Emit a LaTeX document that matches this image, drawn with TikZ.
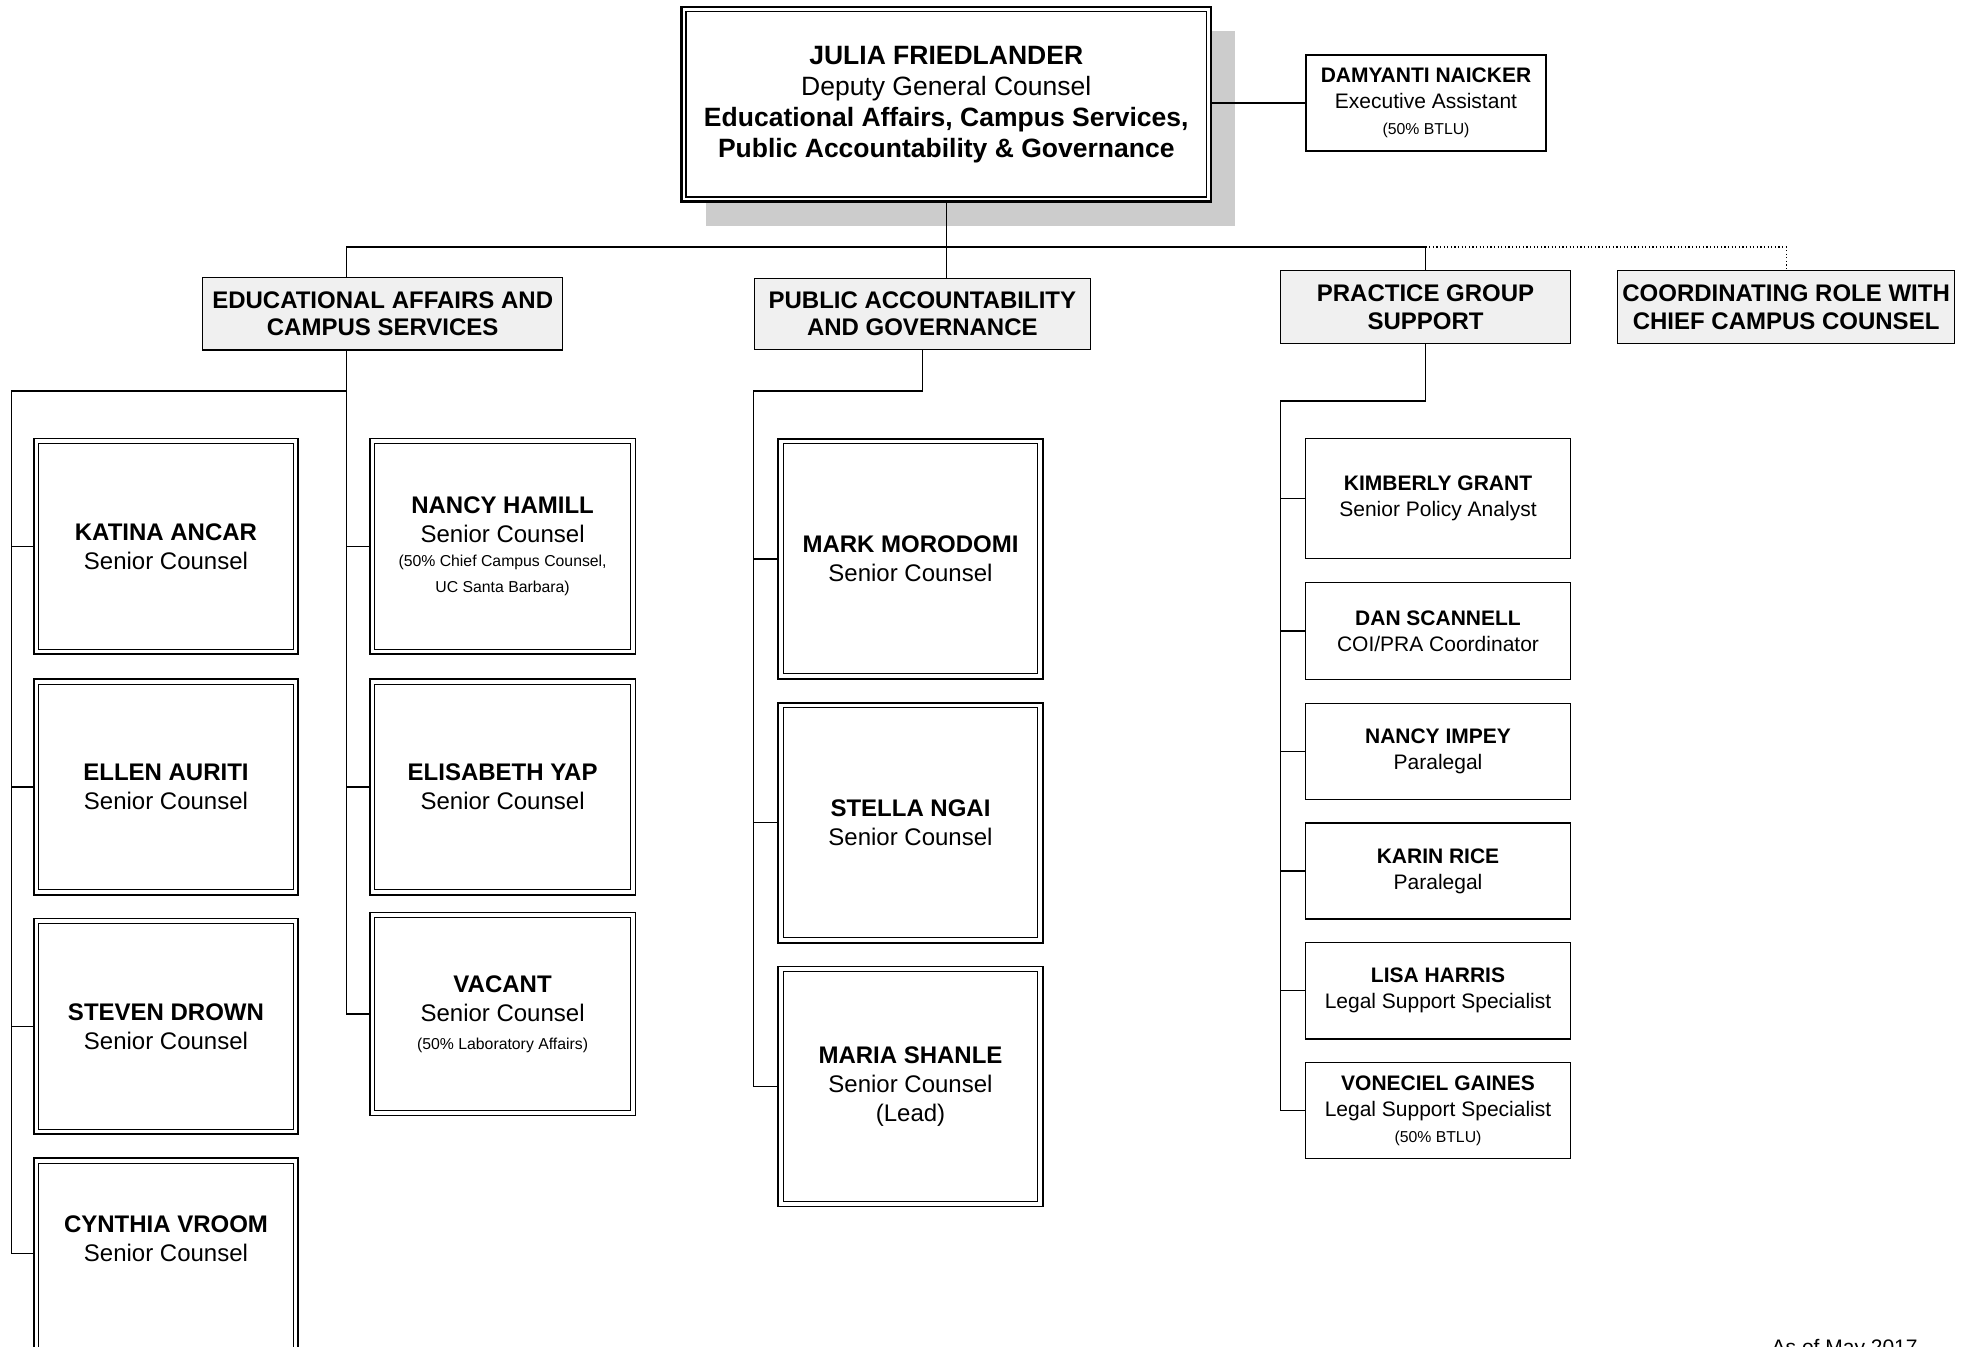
\documentclass[tikz,border=0pt]{standalone}
\usepackage{fontspec}
\setmainfont{Liberation Sans}
\usetikzlibrary{shadows}
\definecolor{hdrfill}{HTML}{F0F0F0}
\definecolor{shadecol}{HTML}{CCCCCC}
\newcommand{\smalltxt}{\fontsize{7.9}{9}\selectfont}
\tikzset{
  sz/.style 2 args={minimum width=#1*0.5pt, minimum height=#2*0.5pt},
  conn/.style={line width=0.6pt},
  dotconn/.style={line width=0.6pt, dash pattern=on 0.6pt off 1.2pt},
  topbox/.style={draw, fill=white, line width=1.25pt, inner sep=0pt, align=center,
    font=\fontsize{13.25}{15.5}\selectfont,
    drop shadow={shadow xshift=12pt, shadow yshift=-12pt, fill=shadecol, opacity=1},
    path picture={\draw[line width=0.7pt]
      ([shift={(2.2pt,-2.2pt)}]path picture bounding box.north west) rectangle
      ([shift={(-2.2pt,2.2pt)}]path picture bounding box.south east);}},
  hdrbox/.style={draw, fill=hdrfill, line width=0.65pt, inner sep=0pt, align=center,
    font=\fontsize{12}{13.75}\selectfont\bfseries},
  dblbox/.style={draw, line width=0.85pt, inner sep=0pt, align=center,
    font=\fontsize{12}{14.5}\selectfont,
    path picture={\draw[line width=0.5pt]
      ([shift={(2.5pt,-2.5pt)}]path picture bounding box.north west) rectangle
      ([shift={(-2.5pt,2.5pt)}]path picture bounding box.south east);}},
  sbox/.style={draw, line width=0.55pt, inner sep=0pt, align=center,
    font=\fontsize{10.5}{13}\selectfont},
}
\begin{document}
\begin{tikzpicture}[x=0.5pt,y=-0.5pt]
\useasboundingbox (0,0) rectangle (1965,1346);
\fill[white] (0,0) rectangle (1965,1346);
\clip (0,0) rectangle (1965,1346);

% top
\node[topbox, sz={529.5}{194.5}] (jf) at (946.25,104.25)
  {\textbf{JULIA FRIEDLANDER}\\Deputy General Counsel\\\textbf{Educational Affairs, Campus Services,}\\\textbf{Public Accountability \& Governance}};
\node[sbox, sz={240}{96}] (dn) at (1426,103)
  {\textbf{DAMYANTI NAICKER}\\Executive Assistant\\{\smalltxt(50\% BTLU)}};

% group headers
\node[hdrbox, sz={360}{72.3}] (ea) at (382.7,313.85) {EDUCATIONAL AFFAIRS AND\\CAMPUS SERVICES};
\node[hdrbox, sz={335.9}{71.4}] (pa) at (922.35,313.9) {PUBLIC ACCOUNTABILITY\\AND GOVERNANCE};
\node[hdrbox, sz={289.5}{72.7}] (pg) at (1425.55,307) {PRACTICE GROUP\\SUPPORT};
\node[hdrbox, sz={337.2}{72.7}] (cc) at (1786.1,307) {COORDINATING ROLE WITH\\CHIEF CAMPUS COUNSEL};

% educational affairs column 1
\node[dblbox, sz={264.5}{215.6}] (ka) at (166,546.4) {\textbf{KATINA ANCAR}\\Senior Counsel};
\node[dblbox, sz={264.5}{215.6}] (el) at (166,787) {\textbf{ELLEN AURITI}\\Senior Counsel};
\node[dblbox, sz={264.5}{215.6}] (sd) at (166,1026.4) {\textbf{STEVEN DROWN}\\Senior Counsel};
\node[dblbox, sz={264.5}{216}] (cv) at (166,1266) {\textbf{CYNTHIA VROOM}\\Senior Counsel\\[12.5pt]\mbox{}};

% educational affairs column 2
\node[dblbox, sz={265.7}{215.6}] (nh) at (502.6,546.4)
  {\textbf{NANCY HAMILL}\\Senior Counsel\\[-2.5pt]{\smalltxt(50\% Chief Campus Counsel,}\\[-1.5pt]{\smalltxt UC Santa Barbara)}};
\node[dblbox, sz={265.7}{215.6}] (ey) at (502.6,787) {\textbf{ELISABETH YAP}\\Senior Counsel};
\node[dblbox, sz={265.7}{203}] (va) at (502.6,1013.9)
  {\textbf{VACANT}\\Senior Counsel\\[-0.5pt]{\smalltxt(50\% Laboratory Affairs)}};

% public accountability column
\node[dblbox, sz={264.5}{240}] (mm) at (910.5,558.9) {\textbf{MARK MORODOMI}\\Senior Counsel};
\node[dblbox, sz={264.5}{240}] (sn) at (910.5,822.7) {\textbf{STELLA NGAI}\\Senior Counsel};
\node[dblbox, sz={264.5}{240}] (ms) at (910.5,1086.5) {\textbf{MARIA SHANLE}\\Senior Counsel\\(Lead)};

% practice group support column
\node[sbox, sz={264.5}{120.3}] (kg) at (1438,498.75) {\textbf{KIMBERLY GRANT}\\Senior Policy Analyst};
\node[sbox, sz={264.5}{96.5}] (ds) at (1438,631) {\textbf{DAN SCANNELL}\\COI/PRA Coordinator};
\node[sbox, sz={264.5}{96.5}] (ni) at (1438,751.3) {\textbf{NANCY IMPEY}\\Paralegal};
\node[sbox, sz={264.5}{96}] (kr) at (1438,871) {\textbf{KARIN RICE}\\Paralegal};
\node[sbox, sz={264.5}{96.5}] (lh) at (1438,990.7) {\textbf{LISA HARRIS}\\Legal Support Specialist};
\node[sbox, sz={264.5}{96}] (vg) at (1438,1110.4)
  {\textbf{VONECIEL GAINES}\\Legal Support Specialist\\{\smalltxt(50\% BTLU)}};

\node[anchor=north east, inner sep=0pt, font=\fontsize{10.5}{13}\selectfont] (asof) at (1918,1338.5) {As of May 2017};

% junction coordinates
\coordinate (busL) at (346.7,247);
\coordinate (eaj) at (346.7,391);
\coordinate (lbx) at (11.3,391);
\coordinate (pgj) at (1425.55,401);
\coordinate (paj) at (pa.south |- eaj);
\coordinate (pal) at (pa.south west |- eaj);
\coordinate (pgl) at (pg.south west |- pgj);
\coordinate (cvin) at ([yshift=-48.2pt]cv.north west);

% top connectors
\draw[conn] (jf.south) -- (jf.south |- pa.north);
\draw[conn] (dn.west) -- (dn.west -| jf.east);
\draw[conn] (busL |- ea.north) -- (busL) -- (busL -| pg.north) -- (pg.north);
\draw[dotconn] (busL -| pg.north) -- (busL -| cc.north) -- (cc.north);

% educational affairs
\draw[conn] (eaj |- ea.south) -- (eaj |- va.west) -- (va.west);
\draw[conn] (eaj |- nh.west) -- (nh.west);
\draw[conn] (eaj |- ey.west) -- (ey.west);
\draw[conn] (eaj) -- (lbx) -- (lbx |- cvin) -- (cvin);
\draw[conn] (lbx |- ka.west) -- (ka.west);
\draw[conn] (lbx |- el.west) -- (el.west);
\draw[conn] (lbx |- sd.west) -- (sd.west);

% public accountability
\draw[conn] (pa.south) -- (paj) -- (pal) -- (pal |- ms.west) -- (ms.west);
\draw[conn] (pal |- mm.west) -- (mm.west);
\draw[conn] (pal |- sn.west) -- (sn.west);

% practice group support
\draw[conn] (pg.south) -- (pgj) -- (pgl) -- (pgl |- vg.west) -- (vg.west);
\draw[conn] (pgl |- kg.west) -- (kg.west);
\draw[conn] (pgl |- ds.west) -- (ds.west);
\draw[conn] (pgl |- ni.west) -- (ni.west);
\draw[conn] (pgl |- kr.west) -- (kr.west);
\draw[conn] (pgl |- lh.west) -- (lh.west);
\end{tikzpicture}
\end{document}
